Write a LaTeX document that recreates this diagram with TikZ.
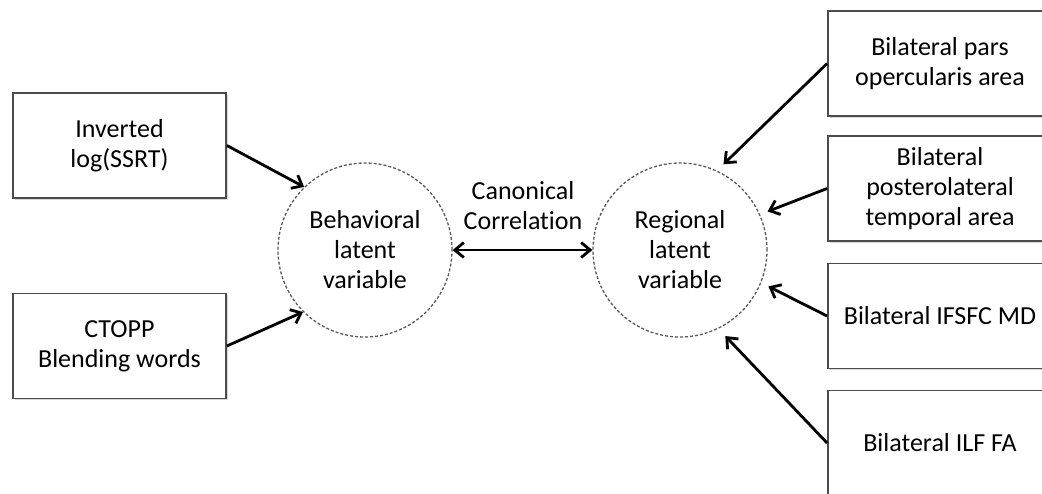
\documentclass[tikz,border=0pt]{standalone}
\usepackage{fontspec}
\setmainfont{Carlito}[Ligatures={NoCommon}]
\usetikzlibrary{arrows.meta,shadows}
\begin{document}
\begin{tikzpicture}[x=1pt,y=-1pt,
  box/.style={draw=black!70, line width=1.8pt, fill=white, minimum width=213pt, minimum height=105pt, align=center, inner sep=0pt,
     drop shadow={opacity=0.25, shadow xshift=1.5pt, shadow yshift=-1.5pt, fill=black!60}},
  rbox/.style={box, minimum width=224pt},
  latent/.style={circle, draw=black!65, line width=1.3pt, dash pattern=on 3pt off 2pt, minimum size=174pt, inner sep=0pt, align=center, fill=white},
  arr/.style={draw=black, line width=2.8pt, -{Straight Barb[length=9pt,width=15pt,line width=2.8pt]}},
  darr/.style={draw=black, line width=2.8pt, {Straight Barb[length=9pt,width=15pt,line width=2.8pt]}-{Straight Barb[length=9pt,width=15pt,line width=2.8pt]}},
  font=\fontsize{26}{30}\selectfont]
\useasboundingbox (0,0) rectangle (1042,493);
\clip (0,0) rectangle (1042,493);
\fill[white] (0,0) rectangle (1042,493);
% left boxes
\node[box] (b1) at (119.5,145.5) {Inverted\\log(SSRT)};
\node[box] (b2) at (119.5,346) {CTOPP\\Blending words};
% circles
\node[latent] (beh) at (365,250) {Behavioral\\latent\\variable};
\node[latent] (reg) at (680,250) {Regional\\latent\\variable};
% right boxes
\node[rbox] (r1) at (940,63.5) {Bilateral pars\\opercularis area};
\node[rbox] (r2) at (940,188.5) {Bilateral\\posterolateral\\temporal area};
\node[rbox] (r3) at (940,316) {Bilateral IFSFC MD};
\node[rbox] (r4) at (940,443) {Bilateral ILF FA};
% label
\node[align=center] (cc) at (523,206) {Canonical\\Correlation};
% connectors
\draw[arr] (b1.east) -- (beh.134);
\draw[arr] (b2.east) -- (beh.225);
\draw[darr] (beh.east) -- (reg.west);
\draw[arr, shorten >=9pt] (r1.west) -- (reg.65);
\draw[arr, shorten >=8pt] (r2.west) -- (reg.24);
\draw[arr, shorten >=8pt] (r3.west) -- (reg.-22);
\draw[arr, shorten >=10pt] (r4.west) -- (reg.-64);
\end{tikzpicture}
\end{document}
